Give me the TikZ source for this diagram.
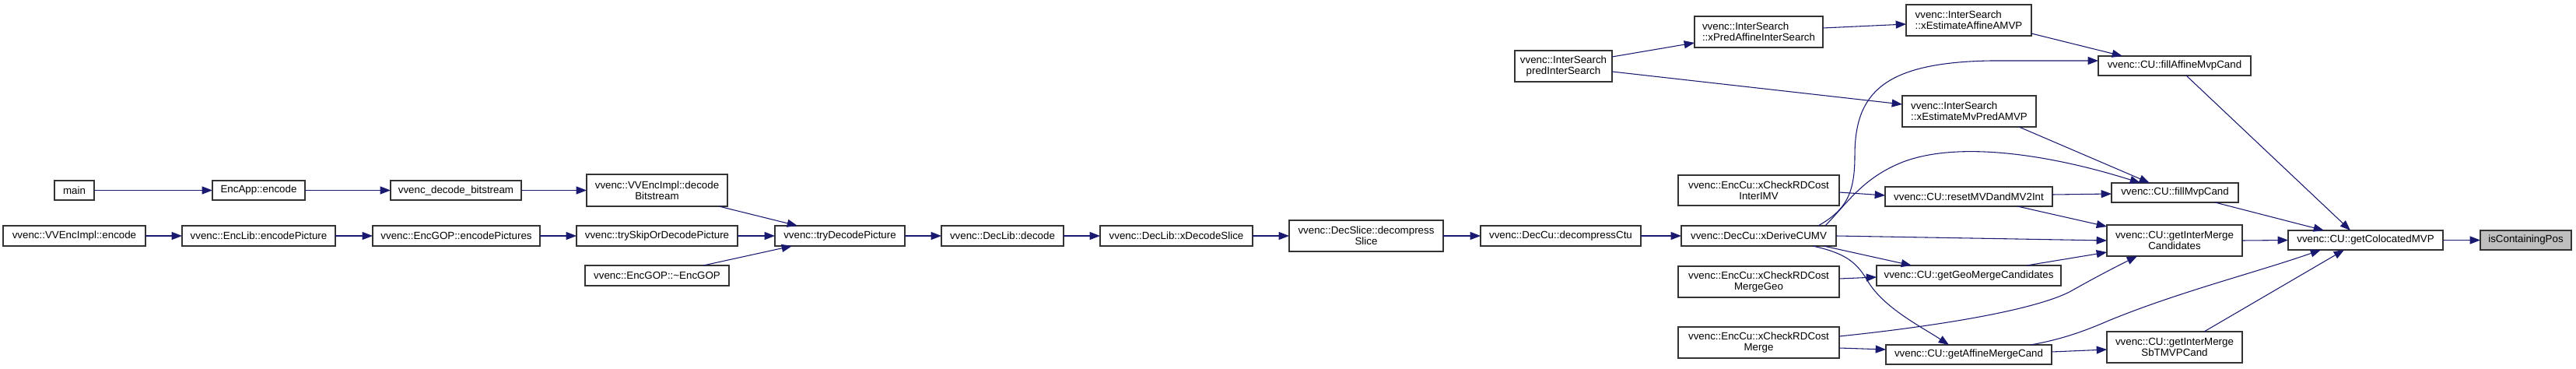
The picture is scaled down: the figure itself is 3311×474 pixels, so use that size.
\documentclass[tikz,border=0pt]{standalone}
\usepackage{fontspec}
\setmainfont{Liberation Sans}
\usetikzlibrary{arrows.meta,calc}
\definecolor{edgecol}{HTML}{191970}
\definecolor{boxcol}{HTML}{333333}
\definecolor{grayfill}{HTML}{BFBFBF}
\newcommand\dnode[7][]{\node[box,#1,minimum width={(#5-#3)*0.75pt},minimum height={(#6-#4)*0.75pt}] (#2) at ({(#3+#5)/2},{(#4+#6)/2}) {#7};}
\begin{document}
\begin{tikzpicture}[x=0.75pt,y=-0.75pt,
  box/.style={draw=boxcol,line width=0.9pt,fill=white,rectangle,inner sep=0pt,outer sep=0pt,
    font=\fontsize{10pt}{10.5pt}\selectfont,align=center},
  edge/.style={draw=edgecol,line width=0.8pt,-{Triangle[length=10pt,width=7.5pt]}}]
\useasboundingbox[fill=white] (0,0) rectangle (3311,474);

% nodes
\dnode{main}{70}{232}{121}{257}{main}
\dnode{encapp}{273}{232}{392}{257}{EncApp::encode}
\dnode{vdb}{502}{232}{670}{257}{vvenc\_decode\_bitstream}
\dnode{decbits}{754}{224}{935}{265}{vvenc::VVEncImpl::decode\\Bitstream}
\dnode{venc}{4}{290}{187}{316}{vvenc::VVEncImpl::encode}
\dnode{encpic}{234}{290}{431}{316}{vvenc::EncLib::encodePicture}
\dnode{encpics}{479}{290}{694}{316}{vvenc::EncGOP::encodePictures}
\dnode{tryskip}{741}{290}{948}{316}{vvenc::trySkipOrDecodePicture}
\dnode{dtor}{752}{341}{937}{367}{vvenc::EncGOP::\textasciitilde EncGOP}
\dnode{trydec}{996}{290}{1163}{316}{vvenc::tryDecodePicture}
\dnode{dldec}{1210}{290}{1367}{316}{vvenc::DecLib::decode}
\dnode{xdecsl}{1414}{290}{1610}{316}{vvenc::DecLib::xDecodeSlice}
\dnode{decsl}{1657}{283}{1855}{323}{vvenc::DecSlice::decompress\\Slice}
\dnode{decctu}{1903}{290}{2109}{316}{vvenc::DecCu::decompressCtu}
\dnode{xder}{2161}{290}{2360}{316}{vvenc::DecCu::xDeriveCUMV}
\dnode{predis}{1947}{65}{2072}{105}{vvenc::InterSearch\\predInterSearch}
\dnode[align=left]{xpred}{2178}{21}{2343}{61}{vvenc::InterSearch\\::xPredAffineInterSearch}
\dnode[align=left]{xestaff}{2450}{6}{2611}{46}{vvenc::InterSearch\\::xEstimateAffineAMVP}
\dnode[align=left]{xestmv}{2445}{123}{2617}{163}{vvenc::InterSearch\\::xEstimateMvPredAMVP}
\dnode{chkimv}{2157}{225}{2364}{264}{vvenc::EncCu::xCheckRDCost\\InterIMV}
\dnode{reset}{2423}{240}{2638}{265}{vvenc::CU::resetMVDandMV2Int}
\dnode{chkgeo}{2157}{342}{2364}{382}{vvenc::EncCu::xCheckRDCost\\MergeGeo}
\dnode{geo}{2412}{341}{2649}{367}{vvenc::CU::getGeoMergeCandidates}
\dnode{chkmrg}{2157}{420}{2364}{460}{vvenc::EncCu::xCheckRDCost\\Merge}
\dnode{aff}{2424}{443}{2637}{468}{vvenc::CU::getAffineMergeCand}
\dnode{fam}{2697}{72}{2893}{97}{vvenc::CU::fillAffineMvpCand}
\dnode{fmv}{2714}{235}{2877}{260}{vvenc::CU::fillMvpCand}
\dnode{imc}{2708}{289}{2882}{329}{vvenc::CU::getInterMerge\\Candidates}
\dnode{sbt}{2708}{426}{2882}{466}{vvenc::CU::getInterMerge\\SbTMVPCand}
\dnode{col}{2941}{296}{3140}{321}{vvenc::CU::getColocatedMVP}
\dnode[fill=grayfill]{isc}{3188}{296}{3305}{321}{isContainingPos}

% edges
\draw[edge] (main) -- (encapp);
\draw[edge] (encapp) -- (vdb);
\draw[edge] (vdb.east) -- (decbits.west);
\draw[edge] (venc) -- (encpic);
\draw[edge] (encpic) -- (encpics);
\draw[edge] (encpics) -- (tryskip);
\draw[edge] ($(decbits.south west)+(170,0)$) -- ($(trydec.north west)+(29,0)$);
\draw[edge] (tryskip) -- (trydec);
\draw[edge] ($(dtor.north west)+(152,0)$) -- ($(trydec.south west)+(22,0)$);
\draw[edge] (trydec) -- (dldec);
\draw[edge] (dldec) -- (xdecsl);
\draw[edge] (xdecsl.east) -- (decsl.west);
\draw[edge] (decsl.east) -- (decctu.west);
\draw[edge] (decctu) -- (xder);

\draw[edge] ($(predis.north east)+(0,8)$) -- ($(xpred.north west)+(0,34)$);
\draw[edge] ($(predis.north east)+(0,27)$) -- ($(xestmv.north west)+(0,11)$);
\draw[edge] ($(xpred.north east)+(0,15)$) -- ($(xestaff.north west)+(0,25)$);
\draw[edge] ($(xestaff.north east)+(0,37)$) -- ($(fam.north west)+(31,0)$);
\draw[edge] ($(xder.north west)+(176,0)$) .. controls (2372,270) and (2384,250) .. (2384,200)
  .. controls (2384,120) and (2420,80) .. (2560,78) -- ($(fam.north west)+(0,6)$);
\draw[edge] ($(xestmv.south west)+(150,0)$) -- ($(fmv.north west)+(49,0)$);
\draw[edge] ($(xder.north west)+(185,0)$) .. controls (2375,260) and (2395,228) .. (2446,208)
  .. controls (2520,180) and (2640,200) .. ($(fmv.north west)+(37,0)$);
\draw[edge] ($(chkimv.north east)+(0,22)$) -- ($(reset.north west)+(0,11)$);
\draw[edge] ($(reset.north east)+(0,10)$) -- ($(fmv.north west)+(0,14)$);
\draw[edge] ($(reset.south west)+(170,0)$) -- ($(imc.north west)+(0,2)$);
\draw[edge] (xder.east) -- (imc.west);
\draw[edge] ($(xder.south west)+(183,0)$) -- ($(geo.north west)+(45,0)$);
\draw[edge] ($(chkgeo.north east)+(0,16)$) -- ($(geo.north west)+(0,15)$);
\draw[edge] ($(geo.north west)+(193,0)$) -- ($(imc.north west)+(0,35)$);
\draw[edge] ($(xder.south west)+(169,0)$) .. controls (2370,325) and (2385,335) .. (2400,360)
  .. controls (2420,395) and (2470,420) .. ($(aff.north west)+(81,0)$);
\draw[edge] ($(chkmrg.north east)+(0,12)$) .. controls (2480,420) and (2610,400) .. (2660,375)
  .. controls (2690,358) and (2715,345) .. ($(imc.south west)+(39,0)$);
\draw[edge] ($(chkmrg.north east)+(0,27)$) -- ($(aff.north west)+(0,6)$);
\draw[edge] ($(aff.north west)+(186,0)$) .. controls (2650,436) and (2680,425) .. (2710,412)
  .. controls (2800,375) and (2900,350) .. ($(col.south west)+(42,0)$);
\draw[edge] ($(aff.north east)+(0,9)$) -- ($(sbt.north west)+(0,23)$);
\draw[edge] ($(fam.south west)+(113,0)$) -- ($(col.north west)+(80,0)$);
\draw[edge] ($(fmv.south west)+(133,0)$) -- ($(col.north west)+(46,0)$);
\draw[edge] (imc.east) -- (col.west);
\draw[edge] ($(sbt.north west)+(125,0)$) -- ($(col.south west)+(72,0)$);
\draw[edge] (col) -- (isc);
\end{tikzpicture}
\end{document}
